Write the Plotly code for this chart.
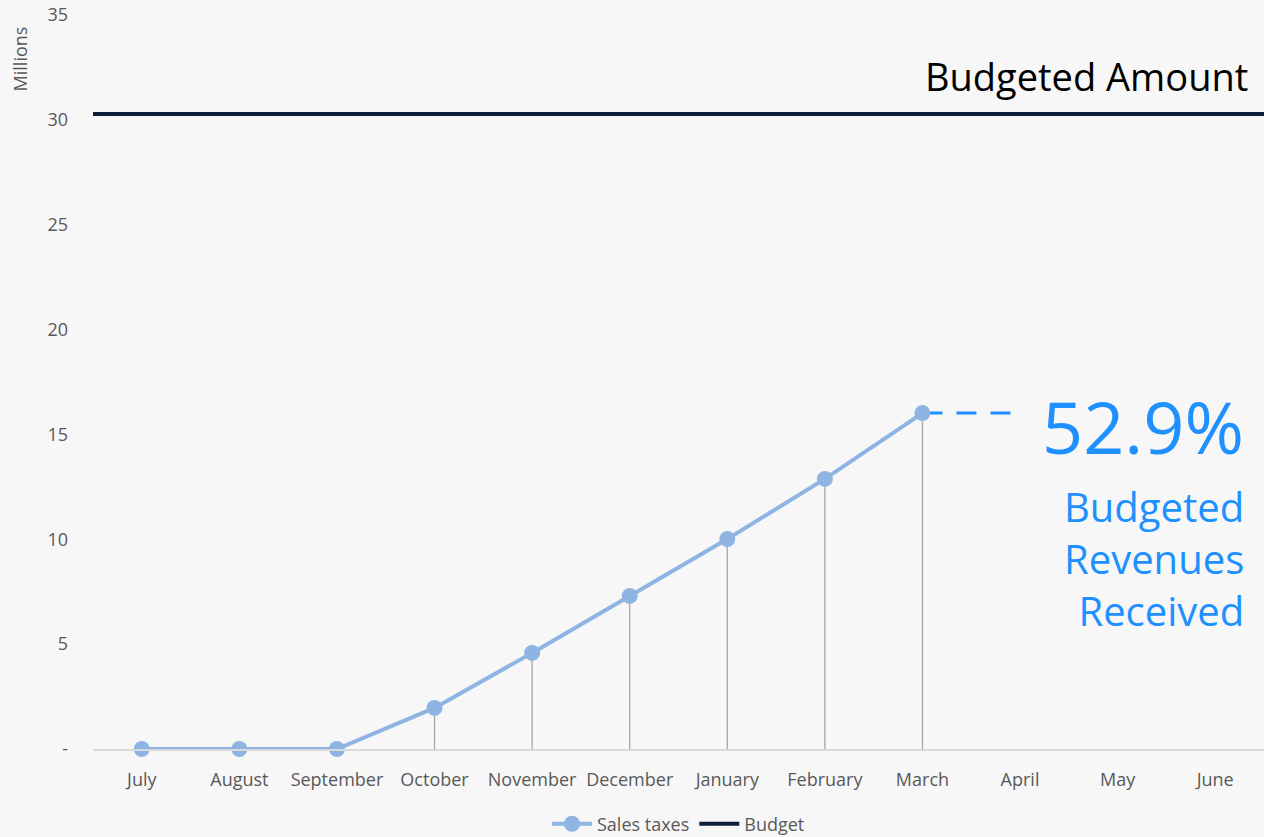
import plotly.graph_objects as go

months = ["July", "August", "September", "October", "November", "December",
          "January", "February", "March", "April", "May", "June"]
sales_taxes = [0, 0, 0, 1.96, 4.58, 7.30, 10.01, 12.88, 16.02]
budget = 30.28
pct_label = "52.9%"
caption_lines = ["Budgeted", "Revenues", "Received"]
y_ticks = [0, 5, 10, 15, 20, 25, 30, 35]
y_tick_text = ["-", "5", "10", "15", "20", "25", "30", "35"]

FONT = "Open Sans, Noto Sans, sans-serif"
BG = "#f7f7f7"
GREY = "#595959"

fig = go.Figure()

fig.add_trace(go.Scatter(
    x=months[:len(sales_taxes)], y=sales_taxes, name="Sales taxes",
    mode="lines+markers", cliponaxis=False,
    line=dict(color="#8eb4e3", width=4),
    marker=dict(color="#8eb4e3", size=16),
    error_y=dict(type="data", symmetric=False, array=[0] * len(sales_taxes),
                 arrayminus=sales_taxes, color="#a6a6a6", thickness=1.3, width=0),
))

fig.add_trace(go.Scatter(
    x=[0, 1], y=[budget, budget], name="Budget", mode="lines",
    line=dict(color="#0d1e3a", width=4), xaxis="x2", cliponaxis=False,
))

# dashed connector from last actual point
last_i = len(sales_taxes) - 1
fig.add_shape(type="line", xref="x", yref="y", layer="below",
              x0=last_i, x1=last_i + 0.91,
              y0=sales_taxes[-1], y1=sales_taxes[-1],
              line=dict(color="#1e90ff", width=3, dash="20px,14px"))

fig.add_annotation(xref="paper", yref="y", x=0.988, y=budget + 1.8,
                   text="Budgeted Amount", showarrow=False, xanchor="right",
                   yanchor="middle", font=dict(family=FONT, size=38, color="#000000"))
fig.add_annotation(xref="paper", yref="y", x=0.985, y=15.4,
                   text=pct_label, showarrow=False, xanchor="right", yanchor="middle",
                   font=dict(family=FONT, size=72, color="#1e90ff"))
fig.add_annotation(xref="paper", yref="y", x=0.985, y=9.1,
                   text="<br>".join(caption_lines), showarrow=False,
                   xanchor="right", yanchor="middle", align="right",
                   font=dict(family=FONT, size=40, color="#1e90ff"))
fig.add_annotation(xref="paper", yref="paper", x=-0.062, y=0.94,
                   text="Millions", showarrow=False, textangle=-90,
                   xanchor="center", yanchor="middle",
                   font=dict(family=FONT, size=18, color=GREY))

fig.update_layout(
    width=1264, height=837,
    paper_bgcolor=BG, plot_bgcolor=BG,
    margin=dict(l=93, r=0, t=15, b=88, autoexpand=False),
    font=dict(family=FONT, size=18, color=GREY),
    showlegend=True,
    legend=dict(orientation="h", x=0.5, xanchor="center",
                yref="container", y=0.0155, yanchor="middle",
                font=dict(size=18, color=GREY), itemwidth=40,
                bgcolor="rgba(0,0,0,0)"),
    xaxis=dict(type="category", categoryorder="array", categoryarray=months,
               range=[-0.5, 11.5], showgrid=False, showline=True, automargin=False,
               linecolor="#d9d9d9", linewidth=1.5, ticks="", zeroline=False,
               ticklabelstandoff=14, tickfont=dict(size=18, color=GREY)),
    xaxis2=dict(overlaying="x", range=[0, 1], visible=False),
    yaxis=dict(range=[0, 35], tickvals=y_ticks, ticktext=y_tick_text, automargin=False,
               showgrid=False, zeroline=False, showline=False, ticks="",
               ticklabelstandoff=24, tickfont=dict(size=18, color=GREY)),
)

fig.write_html("out.html")
